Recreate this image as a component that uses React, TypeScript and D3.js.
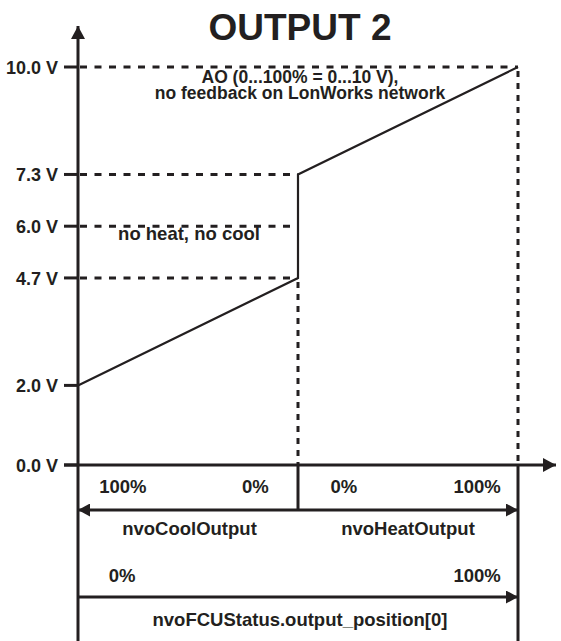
import * as React from 'react'
import * as d3 from 'd3'

// output position (%) vs. analog output voltage
const positions = [0, 50, 50, 100]
const voltages = [2.0, 4.7, 7.3, 10.0]
const yTicks = [0, 2.0, 4.7, 6.0, 7.3, 10.0]
const dottedLevels = [4.7, 6.0, 7.3]
const coolLabels = ['100%', '0%']
const coolAt = [10.2, 40.3]
const heatLabels = ['0%', '100%']
const heatAt = [60.4, 90.7]
const statusLabels = ['0%', '100%']
const statusAt = [10, 90.7]

const W = 561
const H = 641
const ink = '#231f20'
const font = '"Liberation Sans", Arial, sans-serif'

const App = () => {
  const x = d3.scaleLinear().domain([0, 100]).range([78, 518])
  const y = d3.scaleLinear().domain([0, 10]).range([465, 67])

  const line = d3.line<number>()
    .x((d, i) => x(positions[i]))
    .y(d => y(d))

  const dash = '7,7.5'
  const x0 = x(0), xm = x(50), x1 = x(100), yb = y(0)
  const arrowRow1 = 510
  const arrowRow2 = 597
  const fs = 18.5

  return (
    <svg width={W} height={H} style={{ position: 'absolute', left: 0, top: 0 }}
      fontFamily={font} fontWeight="bold" fill={ink}>
      <defs>
        <marker id="ah" viewBox="0 0 10 10" refX="10" refY="5" markerWidth="12" markerHeight="13"
          markerUnits="userSpaceOnUse" orient="auto-start-reverse" preserveAspectRatio="none">
          <path d="M0,0 L10,5 L0,10 Z" fill={ink} />
        </marker>
        <marker id="ahBig" viewBox="0 0 10 10" refX="10" refY="5" markerWidth="13" markerHeight="14"
          markerUnits="userSpaceOnUse" orient="auto-start-reverse" preserveAspectRatio="none">
          <path d="M0,0 L10,5 L0,10 Z" fill={ink} />
        </marker>
      </defs>

      <text x={300} y={40} textAnchor="middle" fontSize={37}>OUTPUT 2</text>

      {/* dotted guides */}
      {dottedLevels.map(v => (
        <line key={v} x1={x0 + 2} x2={xm} y1={y(v)} y2={y(v)} stroke={ink} strokeWidth={3} strokeDasharray={dash} />
      ))}
      <line x1={x0 + 2} x2={x1} y1={y(10)} y2={y(10)} stroke={ink} strokeWidth={3} strokeDasharray={dash} />
      <line x1={xm} x2={xm} y1={y(4.7) + 4} y2={yb} stroke={ink} strokeWidth={3} strokeDasharray="6,6" />
      <line x1={x1} x2={x1} y1={y(10) + 4} y2={yb} stroke={ink} strokeWidth={3} strokeDasharray="6,6" />

      {/* characteristic */}
      <path d={line(voltages) || ''} fill="none" stroke={ink} strokeWidth={2.2} />

      {/* y axis */}
      <line x1={x0} x2={x0} y1={yb} y2={26} stroke={ink} strokeWidth={3} markerEnd="url(#ahBig)" />
      {yTicks.map(v => (
        <g key={v}>
          <line x1={64} x2={x0} y1={y(v)} y2={y(v)} stroke={ink} strokeWidth={3} />
          <text x={58} y={y(v) + 7} textAnchor="end" fontSize={18}>{v.toFixed(1)} V</text>
        </g>
      ))}

      {/* x axis */}
      <line x1={64} x2={556} y1={yb} y2={yb} stroke={ink} strokeWidth={3} markerEnd="url(#ahBig)" />

      <text x={300} y={83} textAnchor="middle" fontSize={17.5}>AO (0...100% = 0...10 V),</text>
      <text x={300} y={99} textAnchor="middle" fontSize={17.5}>no feedback on LonWorks network</text>
      <text x={189} y={240} textAnchor="middle" fontSize={fs}>no heat, no cool</text>

      {/* bottom scales */}
      <line x1={x0} x2={x0} y1={yb} y2={H} stroke={ink} strokeWidth={3} />
      <line x1={x1} x2={x1} y1={yb} y2={H} stroke={ink} strokeWidth={3} />
      <line x1={xm} x2={xm} y1={yb} y2={arrowRow1} stroke={ink} strokeWidth={3} />

      {coolLabels.map((t, i) => (
        <text key={'c' + i} x={x(coolAt[i])} y={493} textAnchor="middle" fontSize={fs}>{t}</text>
      ))}
      {heatLabels.map((t, i) => (
        <text key={'h' + i} x={x(heatAt[i])} y={493} textAnchor="middle" fontSize={fs}>{t}</text>
      ))}
      <line x1={x0} x2={x1} y1={arrowRow1} y2={arrowRow1} stroke={ink} strokeWidth={3}
        markerStart="url(#ah)" markerEnd="url(#ah)" />
      <text x={189.5} y={535} textAnchor="middle" fontSize={fs}>nvoCoolOutput</text>
      <text x={408} y={535} textAnchor="middle" fontSize={fs}>nvoHeatOutput</text>

      {statusLabels.map((t, i) => (
        <text key={'s' + i} x={x(statusAt[i])} y={582} textAnchor="middle" fontSize={fs}>{t}</text>
      ))}
      <line x1={x0} x2={x1} y1={arrowRow2} y2={arrowRow2} stroke={ink} strokeWidth={3} markerEnd="url(#ah)" />
      <text x={300} y={626} textAnchor="middle" fontSize={fs}>nvoFCUStatus.output_position[0]</text>
    </svg>
  )
}

export default App
